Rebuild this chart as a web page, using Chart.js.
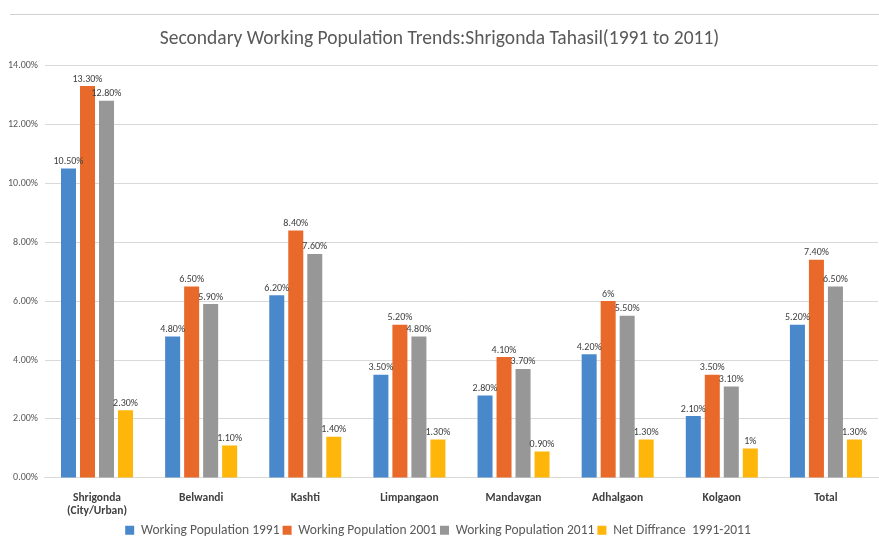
<!DOCTYPE html>
<html><head><meta charset="utf-8">
<script src="https://cdn.jsdelivr.net/npm/chart.js@4.4.1/dist/chart.umd.min.js"></script>
<style>
html,body{margin:0;padding:0;background:#fff;}
#wrap{position:relative;width:879px;height:537px;}
#topline{position:absolute;left:10px;right:0;top:14px;height:1px;background:#d0d0d0;}
canvas{position:absolute;left:0;top:0;}
</style></head>
<body><div id="wrap"><div id="topline"></div><canvas id="c" width="879" height="537"></canvas></div>
<script>
const categories = [["Shrigonda","(City/Urban)"],"Belwandi","Kashti","Limpangaon","Mandavgan","Adhalgaon","Kolgaon","Total"];
const wp1991 = [10.5,4.8,6.2,3.5,2.8,4.2,2.1,5.2];
const wp2001 = [13.3,6.5,8.4,5.2,4.1,6.0,3.5,7.4];
const wp2011 = [12.8,5.9,7.6,4.8,3.7,5.5,3.1,6.5];
const netDiff = [2.3,1.1,1.4,1.3,0.9,1.3,1.0,1.3];
const labels1991 = ["10.50%","4.80%","6.20%","3.50%","2.80%","4.20%","2.10%","5.20%"];
const labels2001 = ["13.30%","6.50%","8.40%","5.20%","4.10%","6%","3.50%","7.40%"];
const labels2011 = ["12.80%","5.90%","7.60%","4.80%","3.70%","5.50%","3.10%","6.50%"];
const labelsNet = ["2.30%","1.10%","1.40%","1.30%","0.90%","1.30%","1%","1.30%"];
const seriesNames = ["Working Population 1991","Working Population 2001","Working Population 2011","Net Diffrance  1991-2011"];
const yTicks = [0,2,4,6,8,10,12,14];

const FONT = "Carlito, 'Open Sans', 'Liberation Sans', sans-serif";
const dataLabelPlugin = {
  id:'dl',
  afterDatasetsDraw(chart){
    const ctx = chart.ctx;
    ctx.save();
    ctx.font = "10px " + FONT;
    ctx.fillStyle = "#404040";
    ctx.textAlign = "center";
    ctx.textBaseline = "bottom";
    chart.data.datasets.forEach((ds,i)=>{
      const meta = chart.getDatasetMeta(i);
      meta.data.forEach((bar,j)=>{
        ctx.fillText(ds.dl[j], bar.x, bar.y - 2);
      });
    });
    ctx.restore();
  }
};

new Chart(document.getElementById('c'), {
  type:'bar',
  data:{
    labels:categories,
    datasets:[
      {label:seriesNames[0],data:wp1991,dl:labels1991,backgroundColor:'#4a88cc'},
      {label:seriesNames[1],data:wp2001,dl:labels2001,backgroundColor:'#e8692a'},
      {label:seriesNames[2],data:wp2011,dl:labels2011,backgroundColor:'#979797'},
      {label:seriesNames[3],data:netDiff,dl:labelsNet,backgroundColor:'#ffb60a'}
    ]
  },
  options:{
    responsive:false,
    animation:false,
    devicePixelRatio:1,
    layout:{padding:{left:1,right:1,top:0,bottom:-10}},
    datasets:{bar:{categoryPercentage:0.73,barPercentage:0.79}},
    plugins:{
      title:{display:true,text:"Secondary Working Population Trends:Shrigonda Tahasil(1991 to 2011)",
        color:'#595959',font:{family:FONT,size:19.5,weight:'normal'},padding:{top:27,bottom:15}},
      legend:{position:'bottom',labels:{color:'#595959',font:{family:FONT,size:13.5},boxWidth:9,boxHeight:9,padding:0,
        generateLabels(chart){
          return Chart.defaults.plugins.legend.labels.generateLabels(chart).map(l=>{l.text = l.text + ' '; return l;});
        }}},
      tooltip:{enabled:false}
    },
    scales:{
      x:{grid:{display:false},border:{color:'#d9d9d9'},
        ticks:{color:'#404040',font:{family:FONT,size:11.5,weight:'bold'},padding:5,maxRotation:0,autoSkip:false}},
      y:{min:0,max:14,afterBuildTicks(ax){ax.ticks=yTicks.map(v=>({value:v}));},
        grid:{color:'#d9d9d9',drawTicks:false},border:{display:false},
        ticks:{color:'#595959',font:{family:FONT,size:10},padding:7,callback:v=>v.toFixed(2)+'%'}}
    }
  },
  plugins:[dataLabelPlugin]
});
</script></body></html>
